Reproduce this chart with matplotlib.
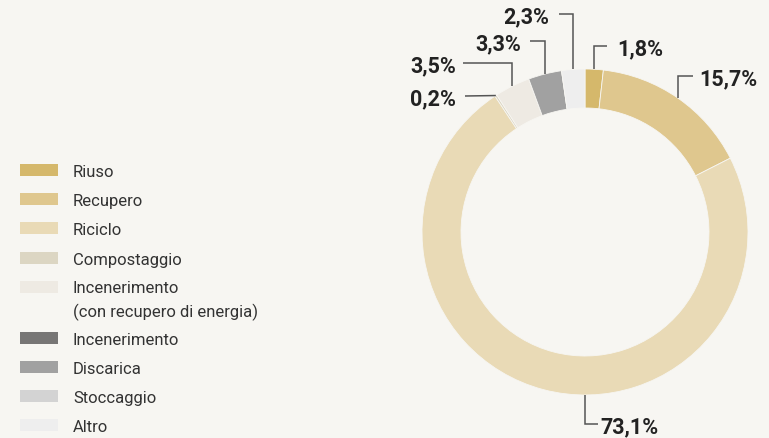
import matplotlib.pyplot as plt
import numpy as np

# categorie e valori (%)
categorie = ['Riuso', 'Recupero', 'Riciclo', 'Compostaggio',
             'Incenerimento\n(con recupero di energia)', 'Incenerimento',
             'Discarica', 'Stoccaggio', 'Altro']
valori = [1.8, 15.7, 73.1, 0.2, 3.5, 0.0, 3.3, 0.0, 2.3]
etichette = ['1,8%', '15,7%', '73,1%', '0,2%', '3,5%', '', '3,3%', '', '2,3%']
colori = ['#d5b86b', '#dfc78e', '#e9dab6', '#dcd6c3', '#eeeae3',
          '#777675', '#a1a1a1', '#d3d3d3', '#eeeeee']

sfondo = '#f7f6f2'
W, H = 769, 439

fig = plt.figure(figsize=(W / 100, H / 100), dpi=100, facecolor=sfondo)
ax = fig.add_axes([0, 0, 1, 1])
ax.set_facecolor(sfondo)

# centro e raggio della ciambella (pixel, y dall'alto)
cx, cy, r, spessore = 585, 233, 163, 39

ax.pie(valori, colors=colori, startangle=90, counterclock=False,
       center=(cx, H - cy), radius=r,
       wedgeprops=dict(width=spessore, edgecolor=sfondo, linewidth=0.6))

ax.set_xlim(0, W)
ax.set_ylim(0, H)
ax.set_aspect('equal')
ax.axis('off')

# posizione delle etichette: (y testo, x fine gomito, x testo, lato)
layout = {
    0: (47, 607, 617, 'r'),
    1: (77, 693, 699, 'r'),
    2: (425, 598, 600, 'r'),
    3: (97, 465, 456, 'l'),
    4: (64, 463, 456, 'l'),
    6: (42, 530, 521, 'l'),
    8: (15, 559, 549, 'l'),
}

cum = np.cumsum([0] + valori[:-1])
for i, (ty, ex, tx, lato) in layout.items():
    if i == 2:
        ang = 180.0
    else:
        ang = (cum[i] + valori[i] / 2) / sum(valori) * 360
    px = cx + r * np.sin(np.radians(ang))
    py = cy - r * np.cos(np.radians(ang))
    if abs(py - ty) < 2:
        xs, ys = [px, ex], [py, ty]
    else:
        xs, ys = [px, px, ex], [py, ty, ty]
    ax.plot(xs, [H - y for y in ys], color='#555555', lw=1.1,
            solid_capstyle='butt', solid_joinstyle='miter')
    ax.text(tx, H - ty, etichette[i], ha='left' if lato == 'r' else 'right',
            va='center_baseline', fontsize=15.5, fontweight='bold',
            family='Roboto', color='#222222')

# legenda
righe = [171, 200, 229, 259, 288, 339, 368, 397, 426]
for cat, col, y in zip(categorie, colori, righe):
    ax.add_patch(plt.Rectangle((20, H - y - 6), 38, 12, color=col, lw=0))
    if '\n' in cat:
        ax.text(73, H - y + 7, cat, ha='left', va='top',
                fontsize=12, family='Roboto', color='#333333', linespacing=1.6)
    else:
        ax.text(73, H - y, cat, ha='left', va='center_baseline',
                fontsize=12, family='Roboto', color='#333333')

fig.savefig('out.png', dpi=100, facecolor=sfondo)
